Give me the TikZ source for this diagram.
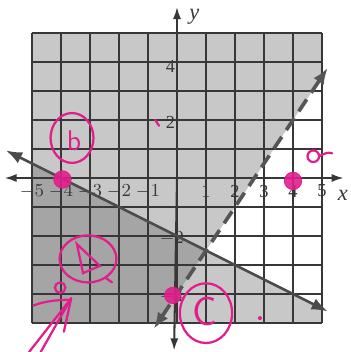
\documentclass[tikz,border=0pt]{standalone}
\usepackage{fontspec}
\setmainfont{Liberation Serif}
\usetikzlibrary{arrows.meta}
\definecolor{pinkink}{RGB}{226,30,140}
\definecolor{lightsh}{RGB}{200,200,200}
\definecolor{darksh}{RGB}{165,165,165}
\definecolor{inkgray}{RGB}{55,55,55}
\tikzset{
  gridline/.style={draw=inkgray, line width=0.6pt},
  axisline/.style={draw=inkgray, line width=1pt, -{Latex[length=6pt,width=4pt]}},
  solidbound/.style={draw=inkgray!90, line width=1.3pt, {Latex[length=8pt,width=6pt]}-{Latex[length=8pt,width=6pt]}},
  dashbound/.style={draw=inkgray!85, line width=1.8pt, dash pattern=on 7pt off 4pt, {Latex[length=8pt,width=6pt]}-{Latex[length=8pt,width=6pt]}},
  ticklab/.style={font=\fontsize{9}{10}\selectfont, text=inkgray, inner sep=0pt},
  pinkdot/.style={fill=pinkink, draw=pinkink, fill opacity=0.9},
  pinkpen/.style={draw=pinkink, line width=1.1pt, line cap=round},
  pinktext/.style={text=pinkink, font=\fontsize{14}{15}\selectfont\sffamily},
}
\begin{document}
\begin{tikzpicture}[x=0.5cm,y=0.5cm]
\useasboundingbox[fill=white] (-6.1034,-6.0) rectangle (5.9655,6.1379);
% shaded regions
\fill[lightsh] (-5,-5) -- (-0.6667,-5) -- (5,3.5) -- (5,5) -- (-5,5) -- cycle;
\fill[lightsh] (-5,0.5) -- (5,-4.5) -- (5,-5) -- (-5,-5) -- cycle;
\fill[darksh] (-5,0.5) -- (1,-2.5) -- (-0.6667,-5) -- (-5,-5) -- cycle;
% grid
\foreach \k in {-5,...,5}{
  \draw[gridline] (\k,-5) -- (\k,5);
  \draw[gridline] (-5,\k) -- (5,\k);
}
% axes
\coordinate (xl) at (-5.95,0);
\coordinate (xr) at (5.75,0);
\coordinate (yb) at (-0.1,-5.95);
\coordinate (yt) at (0,5.9);
\draw[axisline] (0,0) -- (xr);
\draw[axisline] (0,0) -- (xl);
\draw[axisline] (0,0) -- (yt);
\draw[axisline] (0,0) -- (yb);
\node[ticklab, font=\fontsize{11}{12}\selectfont\itshape] (xlab) at (5.72,-0.6) {x};
\node[ticklab, font=\fontsize{11}{12}\selectfont\itshape] (ylab) at (0.6,5.55) {y};
% x tick labels
\foreach \v/\t in {-5/$-5$,-4/$-4$,-3/$-3$,-2/$-2$,-1/$-1$,1/1,2/2,3/3,4/4,5/5}{
  \node[ticklab] (xt\v) at (\v,-0.45) {\t};
}
% y tick labels
\node[ticklab, anchor=east] (yt4) at (-0.05,3.85) {4};
\node[ticklab, anchor=east] (yt2) at (-0.05,1.9) {2};
\node[ticklab, anchor=east] (ytm2) at (0.25,-2.1) {$-2$};
\node[ticklab, anchor=east] (ytm4) at (0.25,-4.1) {$-4$};
% boundary lines
\coordinate (s1) at (-5.9,0.95);
\coordinate (s2) at (5.2,-4.6);
\draw[solidbound] (s1) -- (s2);
\coordinate (d1) at (-0.8,-5.2);
\coordinate (d2) at (5.2,3.8);
\draw[dashbound] (d1) -- (d2);
% pink annotations
\fill[pinkdot] (-3.95,-0.05) circle (0.3);
\fill[pinkdot] (4.0,-0.1) circle (0.3);
\fill[pinkdot] (-0.15,-4.05) circle (0.28);
\draw[pinkpen] (-4.03,-3.78) circle (0.18);
\fill[pinkink] (2.86,-4.83) circle (0.07);
\draw[pinkpen] (-0.75,2.0) -- (-0.62,1.8);
% circled b
\draw[pinkpen] (-3.62,1.38) ellipse (0.74 and 0.86);
\node[pinktext] (lb) at (-3.55,1.3) {b};
% circled D
\draw[pinkpen] (-3.07,-2.79) ellipse (0.98 and 0.81);
\draw[pinkpen] (-3.45,-2.28) -- (-3.24,-3.28) -- (-2.66,-3.03) -- cycle;
\draw[pinkpen] (-2.45,-3.45) -- (-2.24,-3.6);
% circled C
\draw[pinkpen] (1.0,-4.66) ellipse (0.9 and 1.03);
\node[pinktext, font=\fontsize{20}{21}\selectfont\sffamily] (lc) at (0.95,-4.6) {C};
% a at right
\draw[pinkpen] (4.7,0.75) circle (0.2);
\draw[pinkpen] (4.9,0.75) .. controls (5.1,0.85) and (5.2,0.9) .. (5.35,0.85);
% pink arrow from bottom left
\coordinate (pa) at (-3.65,-4.15);
\coordinate (pb) at (-5.1,-6.0);
\coordinate (pc) at (-3.9,-5.3);
\draw[pinkpen] (pb) -- (pa);
\draw[pinkpen] (-4.7,-6.0) -- (pa);
\draw[pinkpen] (pc) -- (pa);
\draw[pinkpen] (-4.95,-4.4) .. controls (-4.6,-4.25) and (-4.1,-4.2) .. (-3.75,-4.2);
\end{tikzpicture}
\end{document}
